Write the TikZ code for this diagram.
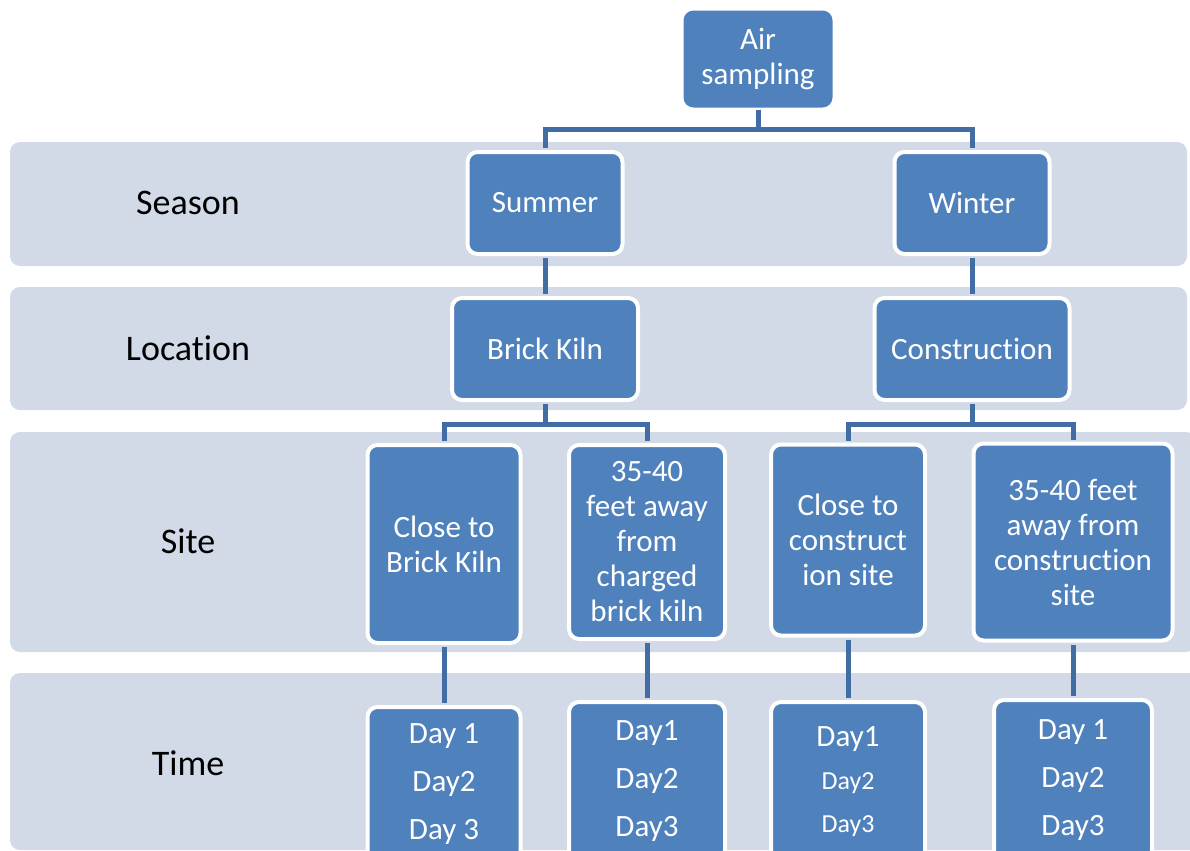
\documentclass[tikz,border=0pt]{standalone}
\usepackage{fontspec}
\setmainfont{Carlito}[RawFeature={-liga;-clig;-dlig;-calt;-ccmp}]
\usepackage{xcolor}
\usepackage{tikz}
\usetikzlibrary{calc}
\definecolor{bandgray}{RGB}{210,217,231}
\definecolor{boxblue}{RGB}{79,129,189}
\definecolor{linkblue}{RGB}{66,108,164}
\tikzset{
  band/.style={fill=bandgray, rounded corners=5pt},
  rowlabel/.style={font=\fontsize{18}{21}\selectfont, text=black},
  box/.style={draw=white, line width=2pt, fill=boxblue, rounded corners=5pt,
    text=white, align=center, inner sep=0pt,
    font=\fontsize{15.5}{17.5}\selectfont},
  link/.style={draw=linkblue, line width=2.5pt},
}

\begin{document}
\begin{tikzpicture}[x=0.5pt, y=-0.5pt]
                \useasboundingbox (0,0) rectangle (1190,851);
                \clip (0,0) rectangle (1190,851);
                % Background bands
                \fill[band] (10,142) rectangle (1187,266);
                \fill[band] (10,287) rectangle (1187,410);
                \fill[band] (10,432) rectangle (1196,652);
                \fill[band] (10,673) rectangle (1200,850);
                % Row labels
                \node[rowlabel] (season) at (188,203) {Season};
                \node[rowlabel] (location) at (188,348) {Location};
                \node[rowlabel] (site) at (188,541) {Site};
                \node[rowlabel] (time) at (188,763) {Time};
                % Top and season boxes
                \node[box, draw=none, minimum width=74.5pt, minimum height=48.5pt] (air) at (758,59) {Air\\sampling};
                \node[box, minimum width=77.5pt, minimum height=51pt] (summer) at (545,203) {Summer};
                \node[box, minimum width=77.5pt, minimum height=51pt] (winter) at (972,203) {Winter};
                % Location boxes
                \node[box, minimum width=93pt, minimum height=51pt] (kiln) at (545,349) {Brick Kiln};
                \node[box, minimum width=97.5pt, minimum height=51pt] (constr) at (972,349) {Construction};
                % Site boxes
                \node[box, minimum width=76.5pt, minimum height=99pt] (siteA) at (444,544) {Close to\\Brick Kiln};
                \node[box, minimum width=78pt, minimum height=97pt] (siteB) at (647,542) {35-40\\feet away\\from\\charged\\brick kiln};
                \node[box, minimum width=77pt, minimum height=95.5pt] (siteC) at (848,540) {Close to\\construct\\ion site};
                \node[box, minimum width=99.5pt, minimum height=98.5pt] (siteD) at (1073,542) {35-40 feet\\away from\\construction\\site};
                % Time boxes
                \node[box, minimum width=76.5pt, minimum height=77pt] (timeA) at (444,784) {Day 1\\[6.5pt]Day2\\[6.5pt]Day 3};
                \node[box, minimum width=78pt, minimum height=79pt] (timeB) at (647,781) {Day1\\[6.5pt]Day2\\[6.5pt]Day3};
                \node[box, minimum width=77pt, minimum height=80pt] (timeC) at (848,782) {Day1\\[4pt]{\fontsize{13}{15}\selectfont Day2}\\[4pt]{\fontsize{13}{15}\selectfont Day3}};
                \node[box, minimum width=79pt, minimum height=80pt] (timeD) at (1073,780) {Day 1\\[6.5pt]Day2\\[6.5pt]Day3};
                % Connectors
                \draw[link, shorten >=1pt] (air.south) -- ++(0,20) -| (summer.north);
                \draw[link, shorten >=1pt] (air.south) -- ++(0,20) -| (winter.north);
                \draw[link, shorten <=1pt, shorten >=1pt] (summer.south) -- (kiln.north);
                \draw[link, shorten <=1pt, shorten >=1pt] (winter.south) -- (constr.north);
                \draw[link, shorten <=1pt, shorten >=1pt] (kiln.south) -- ++(0,22) -| (siteA.north);
                \draw[link, shorten <=1pt, shorten >=1pt] (kiln.south) -- ++(0,22) -| (siteB.north);
                \draw[link, shorten <=1pt, shorten >=1pt] (constr.south) -- ++(0,22) -| (siteC.north);
                \draw[link, shorten <=1pt, shorten >=1pt] (constr.south) -- ++(0,22) -| (siteD.north);
                \foreach \s in {A, B, C, D} {
                    \draw[link, shorten <=1pt, shorten >=1pt] (site\s.south) -- (time\s.north);
                }
            \end{tikzpicture}
\end{document}
